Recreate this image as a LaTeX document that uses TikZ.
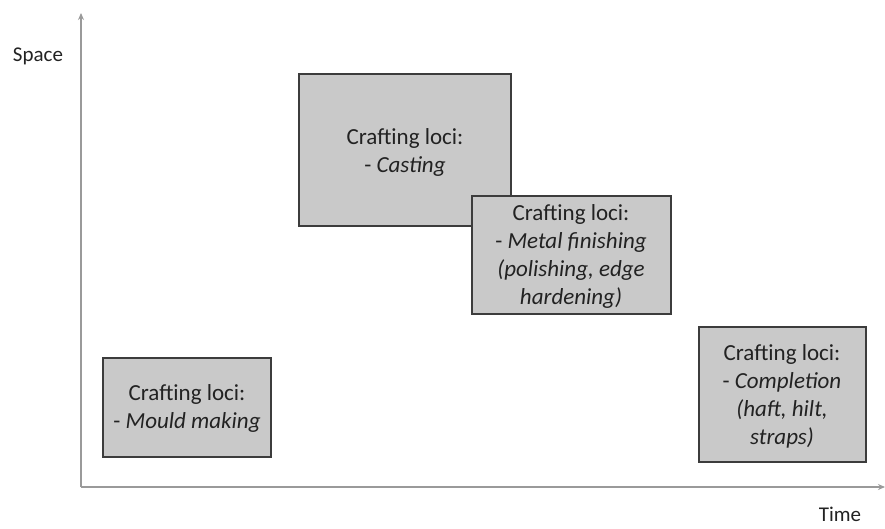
\documentclass[tikz,border=0pt]{standalone}
\usepackage{fontspec}
\setmainfont{Carlito}
\usetikzlibrary{arrows.meta}
\definecolor{boxfill}{HTML}{C9C9C9}
\definecolor{boxline}{HTML}{3C3C3C}
\definecolor{axisline}{HTML}{9A9A9A}
\definecolor{txt}{HTML}{222222}
\tikzset{
  locus/.style={draw=boxline, line width=1.8pt, fill=boxfill, inner sep=0pt},
  loctext/.style={align=center, text=txt, font=\fontsize{23}{28}\selectfont},
  axis/.style={draw=axisline, line width=1.8pt, -{Stealth[length=7pt,width=6pt]}},
  axlabel/.style={text=txt, inner sep=0pt, font=\fontsize{21}{24}\selectfont}
}
\begin{document}
\begin{tikzpicture}[x=1pt,y=-1pt]
\useasboundingbox (0,0) rectangle (885,529);
% axes
\coordinate (o) at (81,487);
\coordinate (ytop) at (81,13);
\coordinate (xend) at (885,487);
\draw[axis] (o) -- (ytop);
\draw[axis] (o) -- (xend);
\node[axlabel, anchor=base] (space) at (38,62) {Space};
\node[axlabel, anchor=base] (time) at (840,521) {Time};
% boxes
\filldraw[locus] (299,74) rectangle (511,226);
\node[loctext] (casting) at (405,152) {Crafting loci:\\- \textit{Casting}};
\filldraw[locus] (472,196) rectangle (671,314);
\node[loctext] (metal) at (571,256) {Crafting loci:\\- \textit{Metal finishing}\\\textit{(polishing, edge}\\\textit{hardening)}};
\filldraw[locus] (103,358) rectangle (271,457);
\node[loctext] (mould) at (187,408) {Crafting loci:\\- \textit{Mould making}};
\filldraw[locus] (699,327) rectangle (866,462);
\node[loctext] (completion) at (782,396) {Crafting loci:\\- \textit{Completion}\\\textit{(haft, hilt,}\\\textit{straps)}};
\end{tikzpicture}
\end{document}
